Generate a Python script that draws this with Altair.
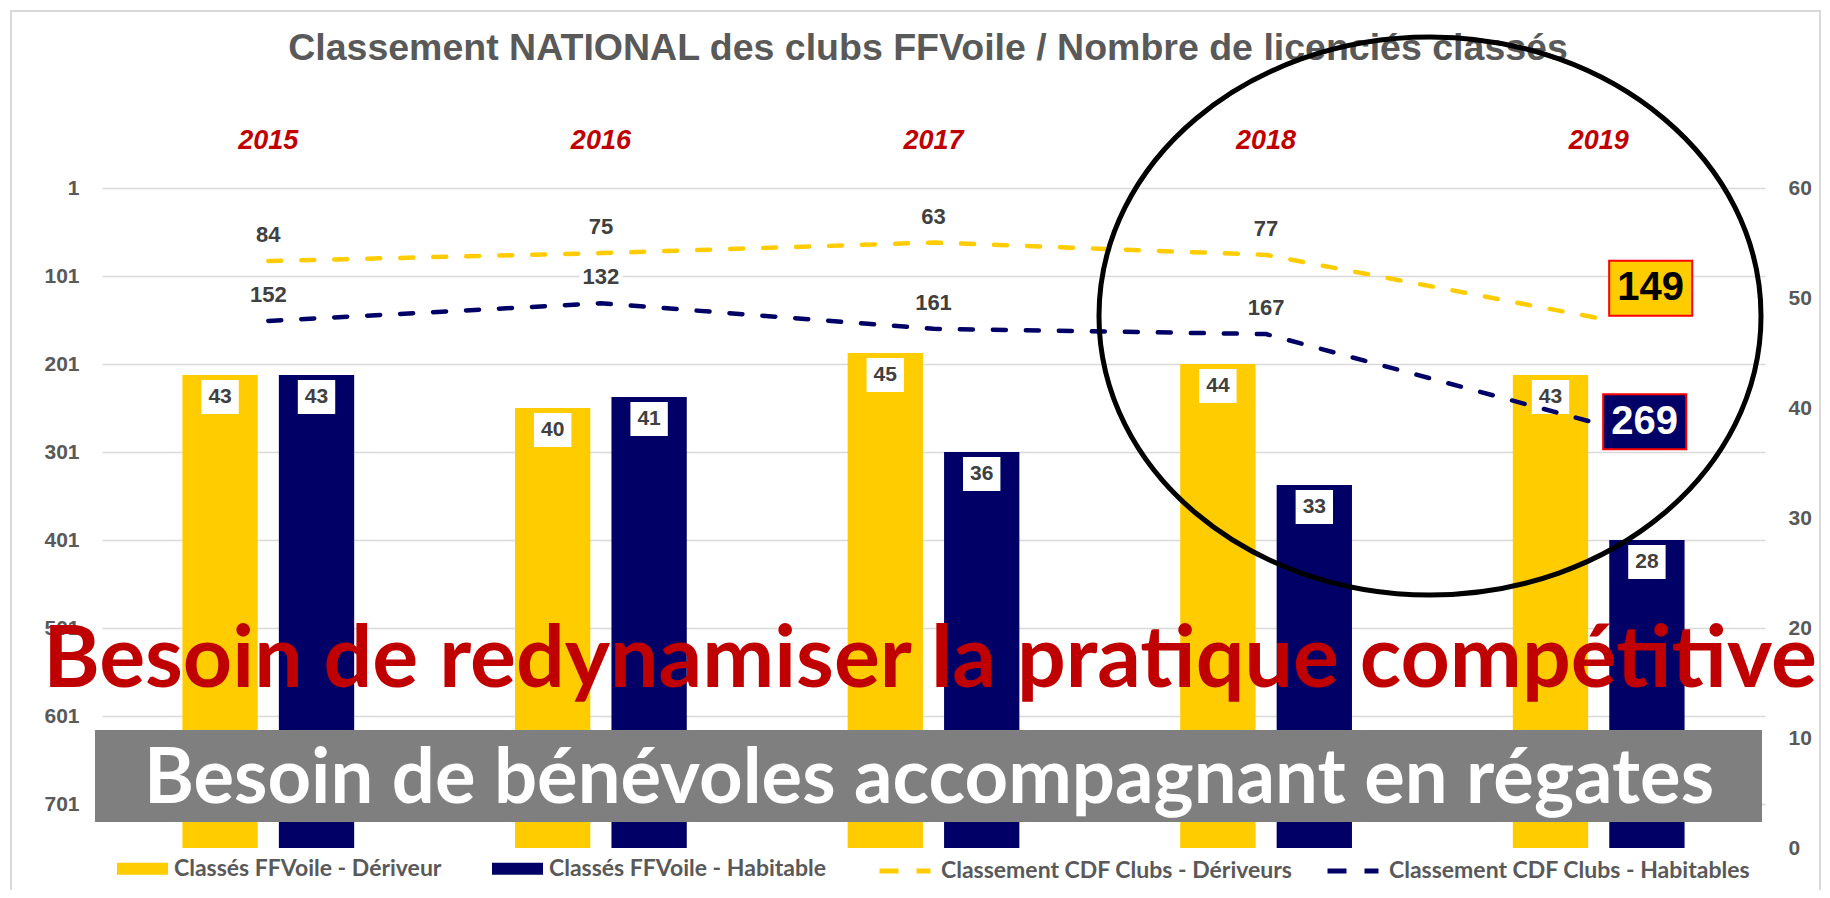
import altair as alt
import pandas as pd

# ---------------- data ----------------
years = ["2015", "2016", "2017", "2018", "2019"]
classes_deriveur = [43, 40, 45, 44, 43]
classes_habitable = [43, 41, 36, 33, 28]
cdf_deriveurs = [84, 75, 63, 77, 149]
cdf_habitables = [152, 132, 161, 167, 269]

bar_names = ["Classés FFVoile - Dériveur", "Classés FFVoile - Habitable"]
line_names = ["Classement CDF Clubs - Dériveurs", "Classement CDF Clubs - Habitables"]
left_ticks = [1, 101, 201, 301, 401, 501, 601, 701]
right_ticks = [0, 10, 20, 30, 40, 50, 60]

title_text = "Classement NATIONAL des clubs FFVoile / Nombre de licenciés classés"
banner_red = "Besoin de redynamiser la pratique compétitive"
banner_grey = "Besoin de bénévoles accompagnant en régates"

YELLOW = "#FFCC00"
NAVY = "#000066"
GREY_TXT = "#595959"
LAB_TXT = "#404040"

bars_df = pd.DataFrame({
    "year": years * 2,
    "serie": [bar_names[0]] * 5 + [bar_names[1]] * 5,
    "n": classes_deriveur + classes_habitable,
})
lines_df = pd.DataFrame({
    "year": years * 2,
    "serie": [line_names[0]] * 5 + [line_names[1]] * 5,
    "rang": cdf_deriveurs + cdf_habitables,
})
one = pd.DataFrame({"k": [1]})

# ---------------- encodings ----------------
x_enc = alt.X(
    "year:N", sort=years, title=None,
    scale=alt.Scale(domain=years, paddingInner=0, paddingOuter=0),
    axis=alt.Axis(orient="top", domain=False, ticks=False, tickSize=0, labelAngle=0,
                  labelPadding=34, labelFont="Liberation Sans", labelFontSize=27,
                  labelFontWeight="bold", labelFontStyle="italic", labelColor="#C00000"),
)
xoff = alt.XOffset("serie:N", sort=bar_names,
                   scale=alt.Scale(domain=bar_names, paddingInner=0.219, paddingOuter=0.834))

y_bar = alt.Y(
    "n:Q", title=None,
    scale=alt.Scale(domain=[0, 60], nice=False, zero=True),
    axis=alt.Axis(orient="right", values=right_ticks, grid=False, domain=False, ticks=False,
                  tickSize=0, labelPadding=23, labelFont="Liberation Sans", labelFontSize=21,
                  labelFontWeight="bold", labelColor=GREY_TXT),
)
y_rank = alt.Y(
    "rang:Q", title=None,
    scale=alt.Scale(domain=[1, 751], reverse=True, nice=False, zero=False),
    axis=alt.Axis(orient="left", values=left_ticks, grid=True, gridColor="#D9D9D9", gridWidth=1.5,
                  domain=False, ticks=False, tickSize=0, labelPadding=23,
                  labelFont="Liberation Sans", labelFontSize=21, labelFontWeight="bold",
                  labelColor=GREY_TXT),
)

bar_legend = alt.Legend(
    title=None, orient="none", legendX=15, legendY=655, direction="horizontal",
    symbolType="M-1,-0.24H1V0.24H-1Z", symbolSize=2601, symbolStrokeWidth=0, symbolOpacity=1,
    labelFont="Lato", labelFontSize=23, labelFontWeight="bold", labelColor=GREY_TXT,
    labelOffset=6, columnPadding=50, padding=0, labelLimit=600,
)
line_legend = alt.Legend(
    title=None, orient="none", legendX=775, legendY=655, direction="horizontal",
    symbolType="stroke", symbolSize=2601, symbolStrokeWidth=5, symbolDash=[19, 18],
    labelFont="Lato", labelFontSize=23, labelFontWeight="bold", labelColor=GREY_TXT,
    labelOffset=8, columnPadding=24, padding=0, labelLimit=600,
)

# ---------------- bars ----------------
base_b = alt.Chart(bars_df)
bars = base_b.mark_bar().encode(
    x=x_enc, xOffset=xoff, y=y_bar,
    fill=alt.Fill("serie:N", sort=bar_names,
                  scale=alt.Scale(domain=bar_names, range=[YELLOW, NAVY]), legend=bar_legend),
)
bar_box = base_b.mark_point(
    shape="M-1.1,-1H1.1V1H-1.1Z", size=1156, filled=True, fill="white", color="white",
    opacity=1, strokeWidth=0, yOffset=22,
).encode(x=x_enc, xOffset=xoff, y=y_bar)
bar_txt = base_b.mark_text(
    dy=22, font="Liberation Sans", fontSize=21, fontWeight="bold", color=LAB_TXT, baseline="middle",
).encode(x=x_enc, xOffset=xoff, y=y_bar, text="n:Q")
bars_group = alt.layer(bars, bar_box, bar_txt)

# ---------------- lines ----------------
base_l = alt.Chart(lines_df)
lines = base_l.mark_line(strokeDash=[13, 20], strokeWidth=4.5, strokeCap="round").encode(
    x=x_enc, y=y_rank,
    stroke=alt.Stroke("serie:N", sort=line_names,
                      scale=alt.Scale(domain=line_names, range=[YELLOW, NAVY]), legend=line_legend),
)
early = base_l.transform_filter(alt.datum.year != "2019")
lab_box = early.mark_point(
    shape="M-1.8,-1H1.8V1H-1.8Z", size=576, filled=True, fill="white", color="white",
    opacity=1, strokeWidth=0, yOffset=-26,
).encode(x=x_enc, y=y_rank)
lab_txt = early.mark_text(
    dy=-26, font="Liberation Sans", fontSize=22, fontWeight="bold", color=LAB_TXT, baseline="middle",
).encode(x=x_enc, y=y_rank, text="rang:Q")

last_d = base_l.transform_filter((alt.datum.year == "2019") & (alt.datum.serie == line_names[0]))
last_h = base_l.transform_filter((alt.datum.year == "2019") & (alt.datum.serie == line_names[1]))
big_path = "M-1.51,-1H1.51V1H-1.51Z"
box_d = last_d.mark_point(shape=big_path, size=3025, filled=True, fill=YELLOW, color=YELLOW,
                          stroke="#FF0000", strokeWidth=2, opacity=1, xOffset=52, yOffset=-30
                          ).encode(x=x_enc, y=y_rank)
txt_d = last_d.mark_text(dx=52, dy=-30, font="Liberation Sans", fontSize=40, fontWeight="bold",
                         color="black", baseline="middle").encode(x=x_enc, y=y_rank, text="rang:Q")
box_h = last_h.mark_point(shape=big_path, size=3025, filled=True, fill=NAVY, color=NAVY,
                          stroke="#FF0000", strokeWidth=2, opacity=1, xOffset=46, yOffset=-2
                          ).encode(x=x_enc, y=y_rank)
txt_h = last_h.mark_text(dx=46, dy=-2, font="Liberation Sans", fontSize=40, fontWeight="bold",
                         color="white", baseline="middle").encode(x=x_enc, y=y_rank, text="rang:Q")
lines_group = alt.layer(lines, lab_box, lab_txt, box_d, txt_d, box_h, txt_h)

# ---------------- annotations ----------------
base_o = alt.Chart(one)
frame = base_o.mark_rect(fill="white", fillOpacity=0, stroke="#D9D9D9", strokeWidth=2).encode(
    x=alt.value(-91), x2=alt.value(1718), y=alt.value(-177), y2=alt.value(740))
grey_rect = base_o.mark_rect(color="#7F7F7F").encode(
    x=alt.value(-7), x2=alt.value(1660), y=alt.value(542), y2=alt.value(634))
grey_txt = base_o.mark_text(text=banner_grey, font="Lato", fontSize=76, fontWeight="bold",
                            color="white", align="center", baseline="alphabetic").encode(
    x=alt.value(827), y=alt.value(615))
red_txt = base_o.mark_text(text=banner_red, font="Lato", fontSize=86, fontWeight="bold",
                           color="#C00000", align="center", baseline="alphabetic").encode(
    x=alt.value(828), y=alt.value(499))
ell_path = ("M0,-1C0.6553,-1 1.1864,-0.5523 1.1864,0C1.1864,0.5523 0.6553,1 0,1"
            "C-0.6553,1 -1.1864,0.5523 -1.1864,0C-1.1864,-0.5523 -0.6553,-1 0,-1Z")
ellipse = base_o.mark_point(shape=ell_path, size=311364, filled=False, stroke="black",
                            strokeWidth=5, opacity=1).encode(x=alt.value(1328), y=alt.value(128))
title = base_o.mark_text(text=title_text, font="Liberation Sans", fontSize=37.5, fontWeight="bold",
                         color=GREY_TXT, align="center", baseline="middle").encode(
    x=alt.value(826), y=alt.value(-139))

chart = alt.layer(
    frame, bars_group, lines_group, grey_rect, grey_txt, red_txt, title, ellipse
).resolve_scale(y="independent").properties(
    width=1663, height=660,
    padding={"left": 94, "top": 180, "right": 57, "bottom": 42},
    autosize=alt.AutoSizeParams(type="none"),
    background="white",
).configure_view(stroke=None)

chart.save("out.html", embed_options={"renderer": "svg", "actions": False})
